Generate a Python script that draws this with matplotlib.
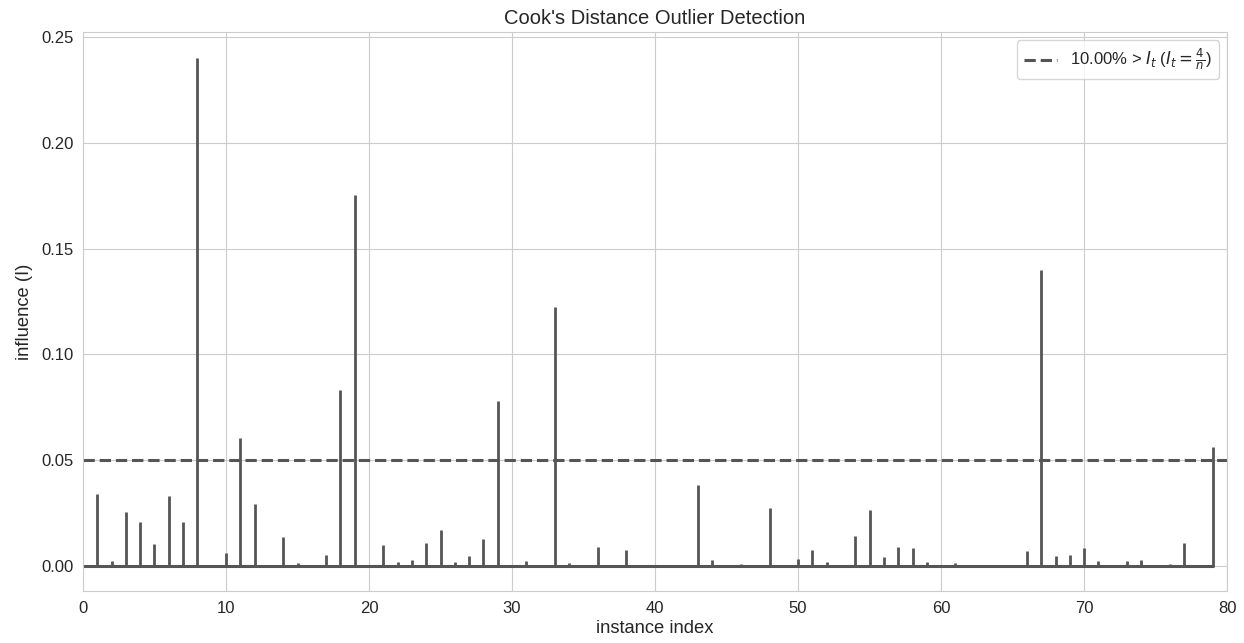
import numpy as np
import matplotlib
matplotlib.use("Agg")
import matplotlib.pyplot as plt
import seaborn as sns

# Cook's distance per instance, 80 instances
n_instances = 80
idx = [1, 2, 3, 4, 5, 6, 7, 8, 10, 11, 12, 14, 15, 17, 18, 19,
       21, 22, 23, 24, 25, 26, 27, 28, 29, 31, 33, 34, 36, 38,
       43, 44, 46, 48, 50, 51, 52, 54, 55, 56, 57, 58, 59, 61,
       66, 67, 68, 69, 70, 71, 73, 74, 76, 77, 79]
vals = [0.0337, 0.0020, 0.0253, 0.0206, 0.0100, 0.0328, 0.0204, 0.2405, 0.0060, 0.0602,
        0.0291, 0.0136, 0.0013, 0.0051, 0.0831, 0.1753,
        0.0095, 0.0016, 0.0025, 0.0108, 0.0170, 0.0017, 0.0043, 0.0125, 0.0779,
        0.0020, 0.1226, 0.0013, 0.0089, 0.0075,
        0.0381, 0.0025, 0.0009, 0.0274, 0.0033, 0.0075, 0.0017, 0.0138, 0.0264,
        0.0038, 0.0089, 0.0082, 0.0017, 0.0013,
        0.0070, 0.1401, 0.0043, 0.0051, 0.0081, 0.0022, 0.0020, 0.0028, 0.0008,
        0.0108, 0.0559]

distance = np.zeros(n_instances)
distance[idx] = vals
threshold = 4 / n_instances
pct = (distance > threshold).mean() * 100

sns.set_style("whitegrid")
plt.rcParams['font.family'] = ['Liberation Sans', 'DejaVu Sans']

fig, ax = plt.subplots(figsize=(12.44, 6.43), dpi=100)
fig.subplots_adjust(left=0.0667, right=0.9865, top=0.950, bottom=0.081)

color = '#555555'
markers, stems, base = ax.stem(np.arange(n_instances), distance,
                               linefmt='-', markerfmt=' ', basefmt='-')
plt.setp(stems, color=color, linewidth=2.0)
plt.setp(base, color=color, linewidth=2.2)

ax.axhline(threshold, ls='--', c=color, lw=2.2,
           label=r"{:0.2f}% > $I_t$ ($I_t = \frac {{4}} {{n}}$)".format(pct))

ax.set_xlim(0, n_instances)
ax.set_title("Cook's Distance Outlier Detection", fontsize=14.5, color='#262626')
ax.set_xlabel("instance index", fontsize=13.2, labelpad=3)
ax.set_ylabel("influence (I)", fontsize=13.2, labelpad=6)
ax.tick_params(labelsize=12)
ax.legend(loc='best', frameon=True, fontsize=12)

fig.savefig("out.png", dpi=100)
